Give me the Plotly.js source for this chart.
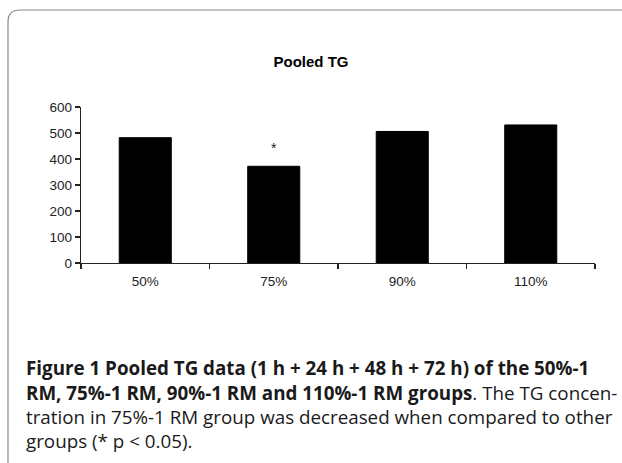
<!DOCTYPE html>
<html>
<head>
<meta charset="utf-8">
<script src="https://cdn.plot.ly/plotly-3.0.1.min.js"></script>
<style>html,body{margin:0;padding:0;background:#fff;}</style>
</head>
<body>
<div id="chart" style="width:622px;height:463px;"></div>
<script>
// Data
var categories = ["50%", "75%", "90%", "110%"];
var tgValues = [482, 372, 506, 531];
var yTickValues = [0, 100, 200, 300, 400, 500, 600];
var chartTitle = "Pooled TG";
var significanceMark = "*";
var significantCategory = "75%";
var captionLines = [
  "<b>Figure 1 Pooled TG data (1 h + 24 h + 48 h + 72 h) of the 50%-1</b>",
  "<b>RM, 75%-1 RM, 90%-1 RM and 110%-1 RM groups</b>. The TG concen-",
  "tration in 75%-1 RM group was decreased when compared to other",
  "groups (* p &lt; 0.05)."
];

// Layout geometry (pixels)
var W = 622, H = 463;
var ml = 81, mr = 27, mt = 107, mb = 200;
var pw = W - ml - mr, ph = H - mt - mb;
function px(x) { return (x - ml) / pw; }
function py(y) { return (H - mb - y) / ph; }

var captionY = [368, 393, 417, 441];
var captionFont = {family: "Open Sans, Noto Sans, sans-serif", size: 18.8, color: "#1a1a1a"};
var annotations = captionLines.map(function (t, i) {
  return {
    xref: "paper", yref: "paper", x: px(24), y: py(captionY[i]),
    xanchor: "left", yanchor: "middle", showarrow: false, align: "left",
    text: t, font: captionFont
  };
});
var sigIdx = categories.indexOf(significantCategory);
annotations.push({
  xref: "x", yref: "y", x: significantCategory, y: tgValues[sigIdx],
  yanchor: "bottom", yshift: 8, showarrow: false, text: significanceMark,
  font: {family: "Liberation Sans, Arial, sans-serif", size: 14, color: "#222"}
});

// Frame with rounded top-left corner
var framePath = "M " + px(8) + "," + py(470) +
  " L " + px(8) + "," + py(22) +
  " Q " + px(8) + "," + py(10) + " " + px(20) + "," + py(10) +
  " L " + px(630) + "," + py(10);

var trace = {
  type: "bar",
  x: categories,
  y: tgValues,
  marker: {color: "#000000", line: {color: "#000000", width: 1}},
  hoverinfo: "x+y"
};

var tickFont = {family: "Liberation Sans, Arial, sans-serif", size: 13.5, color: "#222"};

var layout = {
  width: W, height: H,
  margin: {l: ml, r: mr, t: mt, b: mb, pad: 0},
  paper_bgcolor: "#ffffff", plot_bgcolor: "#ffffff",
  showlegend: false,
  bargap: 0.595,
  title: {
    text: "<b>" + chartTitle + "</b>",
    font: {family: "Liberation Sans, Arial, sans-serif", size: 15, color: "#000"},
    x: 0.5, xref: "container", xanchor: "center",
    y: 1 - 62 / H, yref: "container", yanchor: "middle"
  },
  xaxis: {
    type: "category",
    showline: true, linecolor: "#222", linewidth: 1.2,
    ticks: "outside", tickson: "boundaries", ticklen: 5, tickcolor: "#222", tickwidth: 1.2,
    ticklabelstandoff: 6,
    showgrid: false, zeroline: false,
    tickfont: tickFont,
    range: [-0.5, 3.5]
  },
  yaxis: {
    range: [0, 600],
    tickvals: yTickValues,
    showline: true, linecolor: "#222", linewidth: 1.2,
    ticks: "outside", ticklen: 5, tickcolor: "#222", tickwidth: 1.2,
    showgrid: false, zeroline: false,
    tickfont: tickFont
  },
  shapes: [{
    type: "path", xref: "paper", yref: "paper", path: framePath,
    line: {color: "#8a8a8a", width: 1.2}
  }],
  annotations: annotations
};

Plotly.newPlot("chart", [trace], layout, {displayModeBar: false, staticPlot: true});
</script>
</body>
</html>
